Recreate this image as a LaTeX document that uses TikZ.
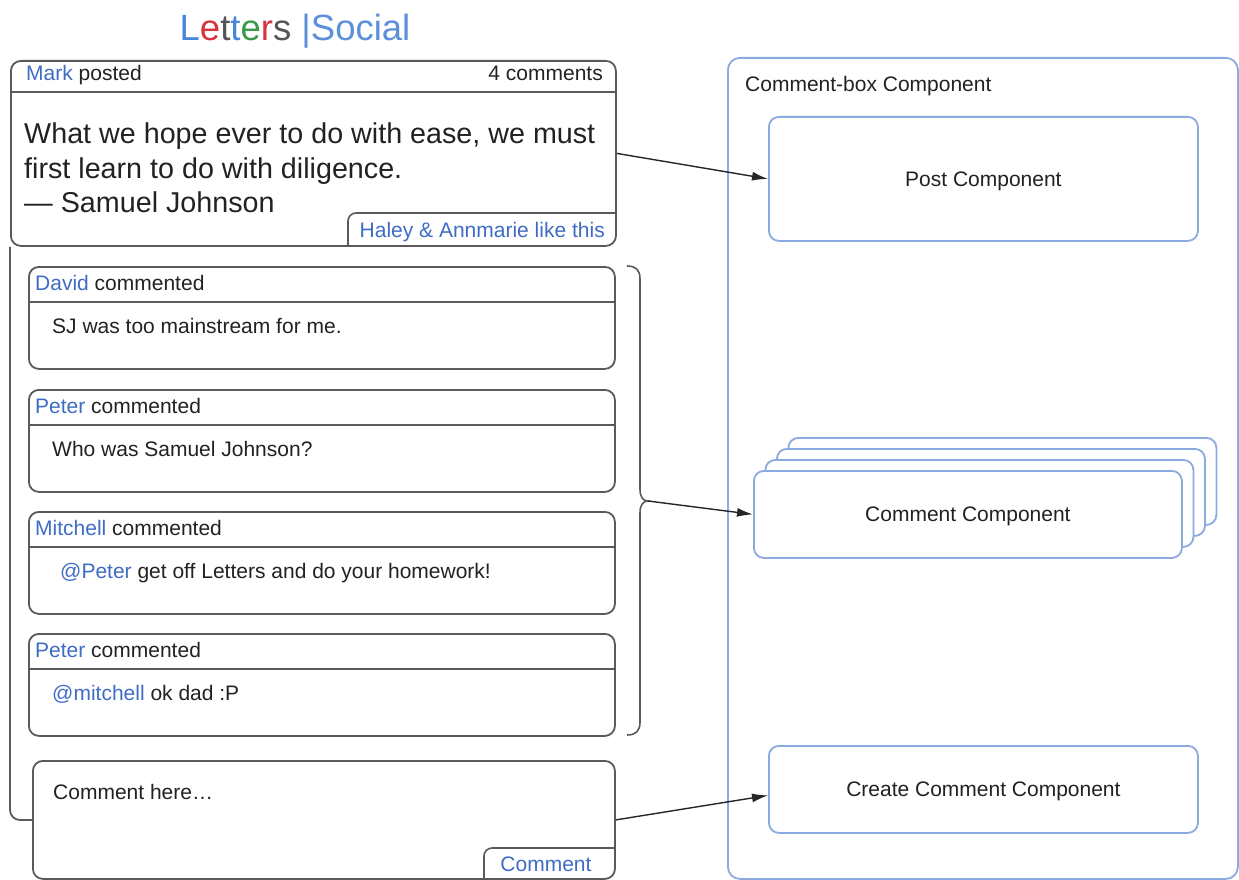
\documentclass[tikz,border=0pt]{standalone}
\usepackage{fontspec}
\setmainfont{Liberation Sans}
\usetikzlibrary{arrows.meta}

\definecolor{linegray}{HTML}{5A5A5A}
\definecolor{compblue}{HTML}{8AAAE0}
\definecolor{namblue}{HTML}{3F6CC4}
\definecolor{txt}{HTML}{222222}
\definecolor{ltBlue}{HTML}{4A86D8}
\definecolor{ltRed}{HTML}{D6343C}
\definecolor{ltGray}{HTML}{555555}
\definecolor{ltGreen}{HTML}{3A9A48}
\definecolor{socialblue}{HTML}{5C90DA}

\newcommand\normsize{\fontsize{21}{24}\selectfont}
\newcommand\quotesize{\fontsize{28.7}{34}\selectfont}
\newcommand\who[1]{\textcolor{namblue}{#1}}

\tikzset{
  uibox/.style={draw=linegray, line width=1.8pt, rounded corners=10pt, inner sep=0pt, anchor=north west},
  compbox/.style={draw=compblue, line width=1.8pt, rounded corners=10pt, inner sep=0pt,
    anchor=north west, fill=white, font=\normsize, text=txt, text height=15pt, text depth=0pt},
  divider/.style={draw=linegray, line width=1.6pt},
  tabline/.style={draw=linegray, line width=1.6pt, rounded corners=8pt},
  lbl/.style={inner sep=0pt, font=\normsize, text=txt, text height=15pt, text depth=0pt},
  quoteline/.style={inner sep=0pt, font=\quotesize, text=txt, text height=20.5pt, text depth=0pt, anchor=west},
  flow/.style={draw=black!85, line width=1.4pt, -{Latex[length=16pt,width=9pt]}},
}

% one comment card: top edge, name, header text, body text, body indent
\newcommand\commentcard[5]{%
  \node[uibox, minimum width=586pt, minimum height=102pt] (#2) at (28,#1) {};
  \draw[divider] (28,#1+36) -- (614,#1+36);
  \node[lbl, anchor=west] (#2-head) at (35,#1+17) {#3};
  \node[lbl, anchor=west] (#2-body) at (#5,#1+60) {#4};
}

\begin{document}
\begin{tikzpicture}[x=1pt,y=-1pt]
\useasboundingbox[fill=white] (0,0) rectangle (1239,880);

% app logo
\node[inner sep=0pt, font=\fontsize{36.5}{40}\selectfont, text height=26pt, text depth=0pt] (title) at (295,28)
  {\textcolor{ltBlue}{L}\textcolor{ltRed}{e}\textcolor{ltGray}{t}\textcolor{ltBlue}{t}\textcolor{ltGreen}{e}\textcolor{ltRed}{r}\textcolor{ltGray}{s} \textcolor{socialblue}{|Social}};

% the post
\node[uibox, minimum width=605pt, minimum height=185pt] (post) at (10,60) {};
\draw[divider] (10,92) -- (615,92);
\node[lbl, anchor=west] (posthead) at (26,73) {\who{Mark} posted};
\node[lbl, anchor=east] (count) at (603,73) {4 comments};
\node[quoteline] (q1) at (24,133) {What we hope ever to do with ease, we must};
\node[quoteline] (q2) at (24,168) {first learn to do with diligence.};
\node[quoteline] (q3) at (24,202) {— Samuel Johnson};
\draw[tabline] (348,245) -- (348,213) -- (615,213);
\node[lbl, anchor=east, text=namblue] (likes) at (605,230) {Haley \& Annmarie like this};

% comments
\commentcard{266}{c1}{\who{David} commented}{SJ was too mainstream for me.}{52}
\commentcard{389}{c2}{\who{Peter} commented}{Who was Samuel Johnson?}{52}
\commentcard{511}{c3}{\who{Mitchell} commented}{\who{@Peter} get off Letters and do your homework!}{60}
\commentcard{633}{c4}{\who{Peter} commented}{\who{@mitchell} ok dad :P}{52}

% new comment input
\node[uibox, minimum width=582pt, minimum height=118pt] (input) at (32,760) {};
\node[lbl, anchor=west] (hint) at (53,792) {Comment here…};
\draw[tabline] (484,878) -- (484,848) -- (614,848);
\node[lbl, text=namblue] (send) at (546,864) {Comment};

% outer frame running down the left side
\draw[linegray, line width=1.8pt, rounded corners=10pt] (post.south west) -- (10,820) -- (32,820);

% brace grouping the comments
\draw[linegray, line width=1.6pt]
  (627,266) .. controls (636,266) and (640,270) .. (640,279) -- (640,489)
  .. controls (640,497) and (643,501) .. (648,501)
  .. controls (643,501) and (640,505) .. (640,513) -- (640,722)
  .. controls (640,731) and (636,735) .. (627,735);
\coordinate (bracetip) at (648,501);

% component tree
\node[compbox, rounded corners=12pt, minimum width=510pt, minimum height=821pt] (cbox) at (727,57) {};
\node[lbl, anchor=west] (cboxlabel) at (745,84) {Comment-box Component};
\node[compbox, minimum width=429pt, minimum height=124pt] (postc) at (768,116) {Post Component};
\node[compbox, minimum width=428pt, minimum height=87pt] (stack3) at (787.5,437) {};
\node[compbox, minimum width=428pt, minimum height=87pt] (stack2) at (776,448) {};
\node[compbox, minimum width=428pt, minimum height=87pt] (stack1) at (764.5,459) {};
\node[compbox, minimum width=428pt, minimum height=87pt] (commentc) at (753,470) {Comment Component};
\node[compbox, minimum width=429pt, minimum height=87pt] (createc) at (768,745) {Create Comment Component};

% mapping arrows
\draw[flow] (post.east) -- (postc.west);
\draw[flow] (bracetip) -- (commentc.west);
\draw[flow] (input.east) -- ([yshift=-6pt]createc.west);
\end{tikzpicture}
\end{document}
